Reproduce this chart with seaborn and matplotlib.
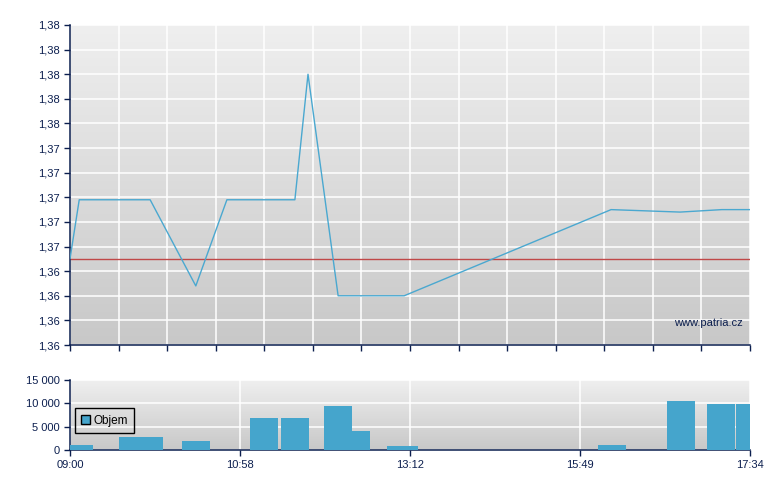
import numpy as np
import matplotlib
matplotlib.use("Agg")
import matplotlib.pyplot as plt
from matplotlib.colors import LinearSegmentedColormap
from matplotlib.ticker import FuncFormatter, MultipleLocator
import seaborn as sns

# price line: position on the session axis (grid slots 0..14) and price
price_pos = [0, 0.19, 1.65, 2.59, 3.23, 4.63, 4.90, 5.52, 6.88, 11.14, 12.56, 13.42, 14]
price_vals = [1.365, 1.3698, 1.3698, 1.3628, 1.3698, 1.3698, 1.380, 1.362, 1.362, 1.369, 1.3688, 1.369, 1.369]
prev_close = 1.365

# volume bars: left/right edge on the same axis and traded volume
vol_left = [0, 1.01, 2.31, 3.71, 4.34, 5.23, 5.81, 6.53, 10.87, 12.29, 13.11, 13.71]
vol_right = [0.47, 1.92, 2.88, 4.28, 4.92, 5.81, 6.18, 7.17, 11.45, 12.87, 13.69, 14]
vol_vals = [1100, 2800, 2000, 6900, 6900, 9400, 4100, 900, 1100, 10500, 9900, 9900]

time_labels = ["09:00", "10:58", "13:12", "15:49", "17:34"]
time_pos = [0, 3.5, 7, 10.5, 14]

sns.set_style("white")
plt.rcParams['font.family'] = ['Liberation Sans', 'DejaVu Sans']
plt.rcParams['font.size'] = 8

navy = "#0c1f4f"
blue = "#4aa8d0"
bg = LinearSegmentedColormap.from_list("bg", ["#c8c8c8", "#efefef"])

fig = plt.figure(figsize=(7.8, 4.9), dpi=100)
ax1 = fig.add_axes([70/780, 1-345/490, 680/780, 320/490])
ax2 = fig.add_axes([70/780, 1-450/490, 680/780, 70/490])


def style_axes(ax):
    ax.imshow(np.linspace(0, 1, 256).reshape(-1, 1), extent=[0, 1, 0, 1],
              transform=ax.transAxes, aspect="auto", cmap=bg, origin="lower", zorder=0)
    ax.set_axisbelow(True)
    ax.grid(True, color="white", linewidth=1.1)
    for s in ["top", "right"]:
        ax.spines[s].set_visible(False)
    for s in ["left", "bottom"]:
        ax.spines[s].set_color(navy)
        ax.spines[s].set_linewidth(1.1)
    ax.tick_params(colors=navy, labelcolor=navy, length=4, width=1, direction="out",
                   left=True, bottom=True, labelsize=8)


# price panel
style_axes(ax1)
sns.lineplot(x=price_pos, y=price_vals, ax=ax1, color=blue, linewidth=1.0,
             estimator=None, zorder=3)
ax1.axhline(prev_close, color="#c04848", linewidth=1.0, zorder=2)
ax1.set_xlim(0, 14)
ax1.set_ylim(1.358, 1.384)
ax1.yaxis.set_major_locator(MultipleLocator(0.002))
ax1.xaxis.set_major_locator(MultipleLocator(1))
ax1.yaxis.set_major_formatter(FuncFormatter(lambda v, p: f"{v:.2f}".replace(".", ",")))
ax1.set_xticklabels([])
ax1.text(0.99, 0.069, "www.patria.cz", transform=ax1.transAxes, ha="right", va="center",
         color=navy, fontsize=8, zorder=4)

# volume panel
style_axes(ax2)
widths = [r - l for l, r in zip(vol_left, vol_right)]
ax2.bar(vol_left, vol_vals, width=widths, align="edge", color="#45a5cc",
        edgecolor="none", linewidth=0, label="Objem", zorder=3)
ax2.set_xlim(0, 14)
ax2.set_ylim(0, 15000)
ax2.set_yticks([0, 5000, 10000, 15000])
ax2.yaxis.set_major_formatter(FuncFormatter(lambda v, p: f"{int(v):,}".replace(",", " ")))
ax2.set_xticks(time_pos)
ax2.set_xticklabels(time_labels)
leg = ax2.legend(loc="lower left", bbox_to_anchor=(0.007, 0.24), frameon=True,
                 fancybox=False, framealpha=1, facecolor="none", edgecolor="black",
                 fontsize=8.5, handlelength=0.7, handleheight=0.7, handletextpad=0.3,
                 borderpad=0.55, borderaxespad=0, labelcolor="black")
leg.get_frame().set_linewidth(1.0)
for h in leg.legend_handles:
    h.set_edgecolor("black")
    h.set_linewidth(1.0)

fig.savefig("out.png", dpi=100)
